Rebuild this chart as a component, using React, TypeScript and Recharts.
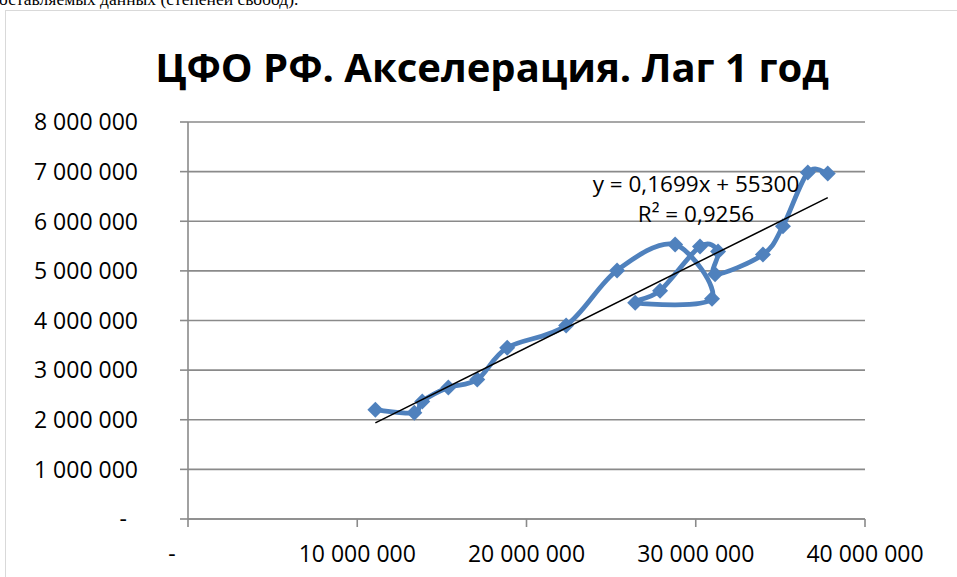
import { ScatterChart, Scatter, XAxis, YAxis, CartesianGrid } from 'recharts';

// лаг 1 год: значение прошлого года (x) и текущего (y), по порядку лет
const lagValues = [
  11070000, 13370000, 13840000, 15380000, 17090000, 18860000, 22340000, 25350000, 28780000,
  30960000, 26420000, 27890000, 30250000, 31320000, 31140000, 33970000, 35150000, 36620000, 37800000,
];
const accelValues = [
  2200000, 2140000, 2370000, 2650000, 2810000, 3450000, 3900000, 5010000, 5530000,
  4440000, 4360000, 4600000, 5490000, 5390000, 4930000, 5330000, 5900000, 6980000, 6960000,
];

const xTicks = [0, 10000000, 20000000, 30000000, 40000000];
const yTicks = [0, 1000000, 2000000, 3000000, 4000000, 5000000, 6000000, 7000000, 8000000];

const trendSlope = 0.1699;
const trendIntercept = 55300;
const trendLabel = 'y = 0,1699x + 55300';
const r2Label = 'R² = 0,9256';
const chartTitle = 'ЦФО РФ. Акселерация. Лаг 1 год';

const FONT = '"Open Sans", sans-serif';
const BLUE = '#4f81bd';
const GRID = '#8a8a8a';

const points = lagValues.map((x, i) => ({ x, y: accelValues[i] }));
const xMin = Math.min(...lagValues);
const xMax = Math.max(...lagValues);
const trendPoints = [
  { x: xMin, y: trendSlope * xMin + trendIntercept },
  { x: xMax, y: trendSlope * xMax + trendIntercept },
];

const fmt = (v: number) => String(v).replace(/\B(?=(\d{3})+(?!\d))/g, ' ');

// excel-like smoothing (catmull-rom through the points, in data order)
// eslint-disable-next-line @typescript-eslint/no-explicit-any
const smoothCurve = (context: any) => {
  let pts: number[][] = [];
  return {
    areaStart() {},
    areaEnd() {},
    lineStart() {
      pts = [];
    },
    point(x: number, y: number) {
      pts.push([+x, +y]);
    },
    lineEnd() {
      if (!pts.length) return;
      context.moveTo(pts[0][0], pts[0][1]);
      for (let i = 0; i < pts.length - 1; i++) {
        const p0 = pts[Math.max(i - 1, 0)];
        const p1 = pts[i];
        const p2 = pts[i + 1];
        const p3 = pts[Math.min(i + 2, pts.length - 1)];
        context.bezierCurveTo(
          p1[0] + (p2[0] - p0[0]) / 6,
          p1[1] + (p2[1] - p0[1]) / 6,
          p2[0] - (p3[0] - p1[0]) / 6,
          p2[1] - (p3[1] - p1[1]) / 6,
          p2[0],
          p2[1],
        );
      }
    },
  };
};

// eslint-disable-next-line @typescript-eslint/no-explicit-any
const Diamond = (props: any) => {
  const { cx, cy } = props;
  if (cx == null || cy == null) return <g />;
  const r = 8;
  return (
    <polygon
      points={`${cx},${cy - r} ${cx + r},${cy} ${cx},${cy + r} ${cx - r},${cy}`}
      fill={BLUE}
    />
  );
};

const NoShape = () => <g />;

// eslint-disable-next-line @typescript-eslint/no-explicit-any
const YTick = (props: any) => {
  const { x, y, payload } = props;
  const zero = payload.value === 0;
  return (
    <text
      x={x}
      y={y}
      dx={zero ? -11 : 0}
      dy="0.36em"
      textAnchor="end"
      fontSize={23}
      fontFamily={FONT}
      fill="#000"
    >
      {zero ? '-' : fmt(payload.value)}
    </text>
  );
};

// eslint-disable-next-line @typescript-eslint/no-explicit-any
const XTick = (props: any) => {
  const { x, y, payload } = props;
  const zero = payload.value === 0;
  return (
    <text
      x={x}
      y={y}
      dx={zero ? -16 : 0}
      dy="0.71em"
      textAnchor="middle"
      fontSize={23}
      fontFamily={FONT}
      fill="#000"
    >
      {zero ? '-' : fmt(payload.value)}
    </text>
  );
};

export default function App() {
  return (
    <div
      style={{
        position: 'absolute',
        left: 0,
        top: 0,
        width: 957,
        height: 577,
        overflow: 'hidden',
        background: '#fff',
      }}
    >
      <div
        style={{
          position: 'absolute',
          left: 5,
          top: 10,
          width: 1100,
          height: 700,
          border: '1px solid #d9d9d9',
        }}
      />
      <div style={{ position: 'absolute', left: 0, top: 0 }}>
        <ScatterChart width={957} height={577} margin={{ top: 122, right: 92, bottom: 0, left: 0 }}>
          <CartesianGrid vertical={false} stroke={GRID} strokeWidth={1.6} />
          <XAxis
            type="number"
            dataKey="x"
            domain={[0, 40000000]}
            ticks={xTicks}
            height={58}
            tickSize={8}
            tickMargin={19}
            stroke={GRID}
            strokeWidth={1.6}
            tick={<XTick />}
            interval={0}
          />
          <YAxis
            type="number"
            dataKey="y"
            domain={[0, 8000000]}
            ticks={yTicks}
            width={188}
            tickSize={8}
            tickMargin={42}
            stroke={GRID}
            strokeWidth={1.6}
            tick={<YTick />}
            interval={0}
          />
          <Scatter
            data={points}
            fill={BLUE}
            line={{ stroke: BLUE, strokeWidth: 4.8 }}
            // eslint-disable-next-line @typescript-eslint/no-explicit-any
            lineJointType={smoothCurve as any}
            shape={<Diamond />}
            isAnimationActive={false}
          />
          <Scatter
            data={trendPoints}
            fill="#000"
            line={{ stroke: '#000', strokeWidth: 1.5 }}
            shape={<NoShape />}
            isAnimationActive={false}
          />
        </ScatterChart>
      </div>
      <svg
        width={957}
        height={577}
        style={{ position: 'absolute', left: 0, top: 0, pointerEvents: 'none' }}
      >
        <text x={-1} y={5} fontSize={17.5} fontFamily='"Liberation Serif", serif' fill="#000">
          оставляемых данных (степеней свобод).
        </text>
        <text
          x={492}
          y={82}
          textAnchor="middle"
          fontSize={40}
          fontWeight="bold"
          fontFamily={FONT}
          fill="#000"
        >
          {chartTitle}
        </text>
        <text x={696} y={192} textAnchor="middle" fontSize={22.5} fontFamily={FONT} fill="#000">
          {trendLabel}
        </text>
        <text x={696} y={222} textAnchor="middle" fontSize={22.5} fontFamily={FONT} fill="#000">
          {r2Label}
        </text>
      </svg>
    </div>
  );
}
